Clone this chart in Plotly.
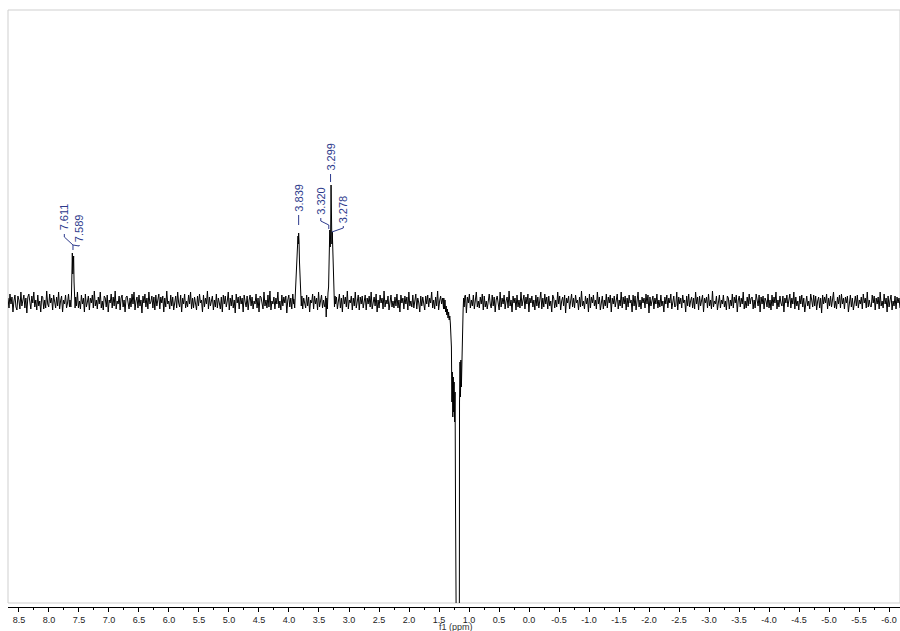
import numpy as np
import plotly.graph_objects as go

# ---------------- data ----------------
X_LEFT, X_RIGHT = 8.683, -6.183          # visible ppm window
Y_LOW, Y_HIGH = -301, 292                 # visible intensity window (baseline = 0)

TICK_VALUES = [8.5, 8.0, 7.5, 7.0, 6.5, 6.0, 5.5, 5.0, 4.5, 4.0, 3.5, 3.0, 2.5, 2.0, 1.5,
               1.0, 0.5, 0.0, -0.5, -1.0, -1.5, -2.0, -2.5, -3.0, -3.5, -4.0, -4.5, -5.0,
               -5.5, -6.0]
TICK_LABELS = ["8.5", "8.0", "7.5", "7.0", "6.5", "6.0", "5.5", "5.0", "4.5", "4.0", "3.5",
               "3.0", "2.5", "2.0", "1.5", "1.0", "0.5", "0.0", "-0.5", "-1.0", "-1.5",
               "-2.0", "-2.5", "-3.0", "-3.5", "-4.0", "-4.5", "-5.0", "-5.5", "-6.0"]

# baseline noise read across the spectrum (one value per ~0.0167 ppm)
NOISE = [
    4, -6, 8, -2, 5, -10, 1, 7, -5, -8, 6, 2, -7, 10, -4, 0, 7, -6, 4, -11, 5, 8, -2, -7, 6, -1, 10, -5, 2, -8,
    7, -4, 1, -10, 6, 5, -7, 2, -6, 11, -2, -5, 8, -1, 4, -8, 7, 0, -6, 5, -4, 10, -7, 1, 6, -10, 2, -2, 7, -6,
    -1, 8, -5, 4, -7, 6, -11, 2, 5, -4, 10, -6, 1, -7, 7, -2, 4, -10, 8, -5, 0, 6, -8, 4, -1, 7, -6, 11, -4, 2,
    -7, 5, -2, 10, -6, 1, -8, 6, 4, -5, 7, -10, 2, -1, 8, -6, 5, -4, 11, -7, 1, -2, 6, -8, 4, 7, -5, 2, -10, 5,
    6, -1, -7, 4, -5, 8, -2, 10, -8, 1, 5, -6, 7, -4, 2, -11, 6, -1, 8, -5, 4, -7, 10, -2, 0, 6, -6, 5, -8, 7,
    -4, 2, 8, -7, 5, -1, 6, -10, 4, -5, 11, -2, 1, -7, 7, -4, 5, -8, 2, 6, -6, 10, -1, -5, 7, -10, 4, -2, 8, -6,
    1, -5, 7, -2, 10, -7, 4, -6, 5, 0, -8, 6, -4, 8, -1, 2, -10, 7, -5, 4, -2, 11, -7, 5, -4, 1, 6, -8, 2, -5,
    8, -6, 4, -1, -7, 5, -10, 7, -2, 6, -5, 1, 10, -8, 4, -4, 7, -6, 2, -11, 8, -1, 5, -7, 6, -2, 4, -10, 7, 0,
    -5, 6, -8, 2, 7, -4, 5, -7, 1, -2, 8, -6, 4, -10, 6, 5, -1, -7, 10, -4, 2, -6, 7, -5, 11, -8, 1, -2, 5, -7,
    4, -2, 10, -6, 1, -8, 7, -4, 5, -1, 6, -11, 2, 7, -5, 4, -7, 8, -2, 0, -6, 5, -10, 6, -4, 2, 8, -7, 4, -1,
    -6, 7, -4, 5, -10, 2, -1, 8, -7, 6, -2, 4, -8, 10, -5, 1, 7, -6, 2, -4, 5, -11, 8, -2, 6, -7, 1, 4, -5, 10,
    -2, 5, -7, 1, 8, -6, 4, -10, 7, -2, 5, -5, 11, -7, 2, -1, 6, -8, 4, -4, 10, -6, 1, 7, -8, 5, -2, 6, -6, 2,
    7, -8, 4, -2, 6, -5, 10, -7, 1, 5, -4, 8, -10, 2, -6, 7, -1, 4, -7, 11, -5, 2, -2, 6, -8, 4, 7, -5, 1, -6,
    5, -4, 8, -6, 2, -10, 7, -1, 4, -7, 6, -2, 5, -8, 10, -4, 1, -5, 7, -6, 2, 8, -7, 4, -1, -10, 6, -4, 5, -2,
    -8, 6, -2, 7, -5, 4, -1, 10, -6, 2, -7, 5, -4, 11, -8, 1, 6, -2, 4, -7, 8, -5, 2, -6, 5, -1, 7, -10, 4, -4,
    2, -7, 5, -4, 10, -8, 1, 6, -5, 4, -2, 7, -11, 5, -1, 8, -6, 2, -4, 7, -7, 4, 10, -5, 1, -6, 5, -2, 8, -8,
    6, -5, 1, -7, 4, 8, -2, -6, 7, -4, 5, -10, 2, 6, -1, -8, 10, -5, 4, -2, 7, -7, 1, 5, -6, 11, -4, 2, -10, 6,
    -1, 4, -8, 7, -5, 2, -6, 10, -4, 1, 7, -7, 5, -2, 8, -10, 4, -1, 6, -5, 2, -8, 7, -4, 5, -6, 1, 10, -7, 4,
    -5, 8, -2, 5, -7, 6, -4, 1, -10, 7, 4, -6, 2, -5, 10, -2, 6, -8, 1, 5, -4, 7, -11, 4, -1, 6, -7, 2, 8, -5,
    4, -6, 7, -1, 2, -8, 5, -5, 11, -4, 1, -7, 6, -2, 4, -10, 8, -6, 5, -1, 7, -4, 2, -7, 10, -2, 5, -8, 1, 6,
    -7, 2, -4, 8, -6, 5, -1, 7, -10, 4, -2, 6, -5, 1, 8, -7, 2, -4, 10, -6, 5, -2, 6, -8, 4, -5, 7, -1, 2, -10,
    7, -4, 6, -8, 1, 10, -5, 2, -7, 5, -1, 4, -6, 8, -2, 7, -11, 5, -4, 1, 6, -7, 4, -2, 8, -6, 2, -5, 7, -4,
    1, -10, 5, -2, 7, -6, 4, -1, 8, -7, 2, 6, -5, -4, 10, -8, 5, -2, 4, -6, 7, -1, 2, -10, 6, -4, 8, -5, 1, 5,
    -6, 4, -7, 10, -2, 5, -8, 6, -4, 1, 7, -10, 4, -1, 5, -6, 8, -4, 2, -7, 11, -5, 1, -2, 6, -8, 4, 7, -6, 2,
    -2, 7, -5, 1, -8, 6, 4, -7, 2, -4, 8, -6, 5, -1, 7, -10, 2, 6, -5, 4, -2, 10, -7, 1, -6, 5, -4, 8, -2, 4,
    5, -7, 2, -6, 8, -1, -4, 7, -10, 5, -2, 6, -7, 4, 1, -5, 8, -6, 2, -8, 7, -4, 5, -1, 10, -7, 2, -5, 6, -1,
    -4, 6, -10, 4, -1, 7, -5, 2, 8, -6, 4, -2, 10, -7, 5, -4, 1, -8, 6, -2, 7, -5, 4, -10, 2, 6, -4, 1, -7, 8,
    2, -5, 7, -4, 6, -8, 1, 5, -6, 4, -11, 7, -2, 5, -1, 8, -7, 4, -4, 6, -5, 2, 10, -6, 1, -7, 5, -2, 7, -6,
    8, -2, 4, -7, 5, -1, 6, -10, 2, 7, -5, 4, -8, 1, 6, -4, 7, -6, 2, -2, 5, -7, 8, -1, 4, -6, 10, -5, 2, -4,
    -5, 7, -1, 6, -8, 4, -2, 5, -7, 10, -4, 1, -6, 8, -2, 4, -10, 6, -5, 2, 7, -8, 1, -4, 6, -7, 5, -1, 4, -6,
]

# peak profiles (ppm, intensity)
PEAK_A_PPM = [7.650, 7.635, 7.625, 7.617, 7.611, 7.603, 7.596, 7.589, 7.582, 7.575, 7.565, 7.555]
PEAK_A_INT = [2, -5, 7, 30, 49, 28, 35, 46, 20, 3, -6, 5]

PEAK_B_PPM = [3.920, 3.905, 3.895, 3.885, 3.875, 3.865, 3.857, 3.850, 3.845, 3.839, 3.832,
              3.825, 3.815, 3.805, 3.795, 3.785]
PEAK_B_INT = [3, -6, 9, 14, 25, 45, 62, 66, 58, 69, 60, 40, 20, 8, -4, 6]

PEAK_C_PPM = [3.400, 3.390, 3.380, 3.370, 3.360, 3.350, 3.340, 3.330, 3.325, 3.320, 3.313,
              3.306, 3.299, 3.292, 3.285, 3.278, 3.271, 3.262, 3.252, 3.242, 3.232]
PEAK_C_INT = [-5, 6, -15, 4, -7, 9, 15, 45, 60, 72, 55, 68, 117, 66, 58, 70, 50, 22, 8, -5, 6]

PEAK_D_PPM = [1.420, 1.410, 1.400, 1.390, 1.380, 1.370, 1.360, 1.350, 1.340, 1.330, 1.320,
              1.310, 1.300, 1.293, 1.285, 1.278, 1.270, 1.262, 1.255, 1.248, 1.240, 1.232,
              1.225, 1.217, 1.200, 1.183, 1.167, 1.158, 1.150, 1.142, 1.135, 1.127, 1.119,
              1.112, 1.105, 1.098, 1.090, 1.080, 1.070]
PEAK_D_INT = [4, -7, 2, -10, -4, -13, -7, -16, -10, -18, -14, -22, -30, -45, -100, -70, -115,
              -75, -110, -80, -120, -90, -200, -800, -600, -600, -800, -100, -60, -95, -58,
              -85, -55, -30, -15, -8, 4, -5, 6]

LABEL_TEXT = ["7.611", "7.589", "3.839", "3.320", "3.299", "3.278"]
LABEL_PPM = [7.611, 7.589, 3.839, 3.320, 3.299, 3.278]

# ---------------- assemble trace ----------------
peaks = [(PEAK_A_PPM, PEAK_A_INT), (PEAK_B_PPM, PEAK_B_INT),
         (PEAK_C_PPM, PEAK_C_INT), (PEAK_D_PPM, PEAK_D_INT)]
n = len(NOISE)
grid = X_LEFT - np.arange(n) * (X_LEFT - X_RIGHT) / (n - 1)
noise = np.array(NOISE, dtype=float)
keep = np.ones(n, dtype=bool)
for pp, _ in peaks:
    keep &= ~((grid <= max(pp)) & (grid >= min(pp)))
xs = [grid[keep]] + [np.array(pp, float) for pp, _ in peaks]
ys = [noise[keep]] + [np.array(pi, float) for _, pi in peaks]
x_all = np.concatenate(xs)
y_all = np.concatenate(ys)
order = np.argsort(-x_all)
x_all, y_all = x_all[order], y_all[order]

# ---------------- layout geometry ----------------
W, H = 900, 631
M_L, M_R, M_T, M_B = 8, 0, 10, 24
PLOT_W = W - M_L - M_R
PAPER_H = H - M_T - M_B
AXIS_GAP = 4                                  # axis line sits below the frame
PX_PER_PPM = PLOT_W / (X_LEFT - X_RIGHT)
PLOT_H = PAPER_H - AXIS_GAP
PX_PER_UNIT = PLOT_H / (Y_HIGH - Y_LOW)


def dx(px):
    return -px / PX_PER_PPM


def dy(px):
    return px / PX_PER_UNIT


LABEL_COLOR = "#2d3a8c"
LABEL_FONT = dict(family="Liberation Sans, Arial, sans-serif", size=11, color=LABEL_COLOR)

# label placement: (horizontal px offset from peak, centre height px above baseline)
label_place = [(-8, 85), (5.5, 74), (0, 104), (-9, 101), (-0.5, 145), (11, 93)]
half_len = 15

annotations = []
label_xy = []
for txt, ppm, (ox, hy) in zip(LABEL_TEXT, LABEL_PPM, label_place):
    lx = ppm + dx(ox)
    ly = dy(hy)
    label_xy.append((lx, ly))
    annotations.append(dict(x=lx, y=ly, xref="x", yref="y", text=txt, showarrow=False,
                            textangle=-90, xanchor="center", yanchor="middle", font=LABEL_FONT))

annotations.append(dict(x=(1.22 - X_LEFT) / (X_RIGHT - X_LEFT), y=-20 / PAPER_H,
                        xref="paper", yref="paper", text="f1 (ppm)", showarrow=False,
                        xanchor="center", yanchor="middle",
                        font=dict(family="Liberation Sans, Arial, sans-serif", size=9,
                                  color="#333333")))


def path(pts):
    return "M " + " L ".join(f"{px},{py}" for px, py in pts)


shapes = []
lead = dict(type="path", xref="x", yref="y", line=dict(color=LABEL_COLOR, width=1))

# 7.611 / 7.589 bracket converging to the doublet
(l1x, l1y), (l2x, l2y) = label_xy[0], label_xy[1]
mid_ppm = (LABEL_PPM[0] + LABEL_PPM[1]) / 2
join_y = dy(57)
shapes.append(dict(lead, path=path([(l1x, l1y - dy(half_len + 2)), (l1x, l1y - dy(half_len + 5)),
                                    (mid_ppm, join_y), (mid_ppm, join_y - dy(5))])))
shapes.append(dict(lead, path=path([(l2x, l2y - dy(half_len + 2)), (l2x, l2y - dy(half_len + 3)),
                                    (mid_ppm, join_y)])))
# 3.839 straight tick
lx, ly = label_xy[2]
shapes.append(dict(lead, path=path([(lx, ly - dy(half_len + 2)), (lx, ly - dy(half_len + 12))])))
# 3.299 straight tick
lx, ly = label_xy[4]
shapes.append(dict(lead, path=path([(lx, ly - dy(half_len + 2)), (lx, ly - dy(half_len + 10))])))
# 3.320 bent leader
lx, ly = label_xy[3]
tx = LABEL_PPM[3] + dx(-1)
shapes.append(dict(lead, path=path([(lx, ly - dy(half_len + 2)), (lx, ly - dy(half_len + 5)),
                                    (tx, dy(77)), (tx, dy(73))])))
# 3.278 bent leader
lx, ly = label_xy[5]
tx = LABEL_PPM[5] + dx(-0.5)
shapes.append(dict(lead, path=path([(lx, ly - dy(half_len + 2)), (lx, ly - dy(half_len + 4)),
                                    (tx, dy(70))])))

# grey frame around the plotting area
shapes.append(dict(type="rect", xref="x domain", yref="y domain", x0=0, x1=1, y0=0, y1=1,
                   line=dict(color="#cfcfcf", width=1), layer="below"))

fig = go.Figure()
fig.add_trace(go.Scatter(x=x_all, y=y_all, mode="lines", xaxis="x", yaxis="y",
                         line=dict(color="#000000", width=1), hoverinfo="skip",
                         showlegend=False))
fig.add_trace(go.Scatter(x=[X_LEFT, X_RIGHT], y=[0, 0], mode="markers", xaxis="x2",
                         yaxis="y", marker=dict(opacity=0), hoverinfo="skip",
                         showlegend=False))

tick_font = dict(family="Liberation Sans, Arial, sans-serif", size=9, color="#222222")
fig.update_layout(
    width=W, height=H,
    margin=dict(l=M_L, r=M_R, t=M_T, b=M_B, pad=0),
    paper_bgcolor="white", plot_bgcolor="white",
    xaxis=dict(range=[X_LEFT, X_RIGHT], showticklabels=False, ticks="", showgrid=False,
               zeroline=False, showline=False, anchor="y"),
    xaxis2=dict(range=[X_LEFT, X_RIGHT], overlaying="x", anchor="free", position=0,
                side="bottom", showline=True, linecolor="#000000", linewidth=1,
                ticks="outside", ticklen=4, tickwidth=1, tickcolor="#000000",
                tickmode="array", tickvals=TICK_VALUES, ticktext=TICK_LABELS,
                tickfont=tick_font, showgrid=False, zeroline=False,
                minor=dict(ticks="outside", ticklen=2, tickwidth=1, tickcolor="#000000",
                           tickmode="linear", tick0=0, dtick=0.25, showgrid=False)),
    yaxis=dict(range=[Y_LOW, Y_HIGH], domain=[AXIS_GAP / PAPER_H, 1], visible=False),
    annotations=annotations,
    shapes=shapes,
)

fig.write_html("out.html")
